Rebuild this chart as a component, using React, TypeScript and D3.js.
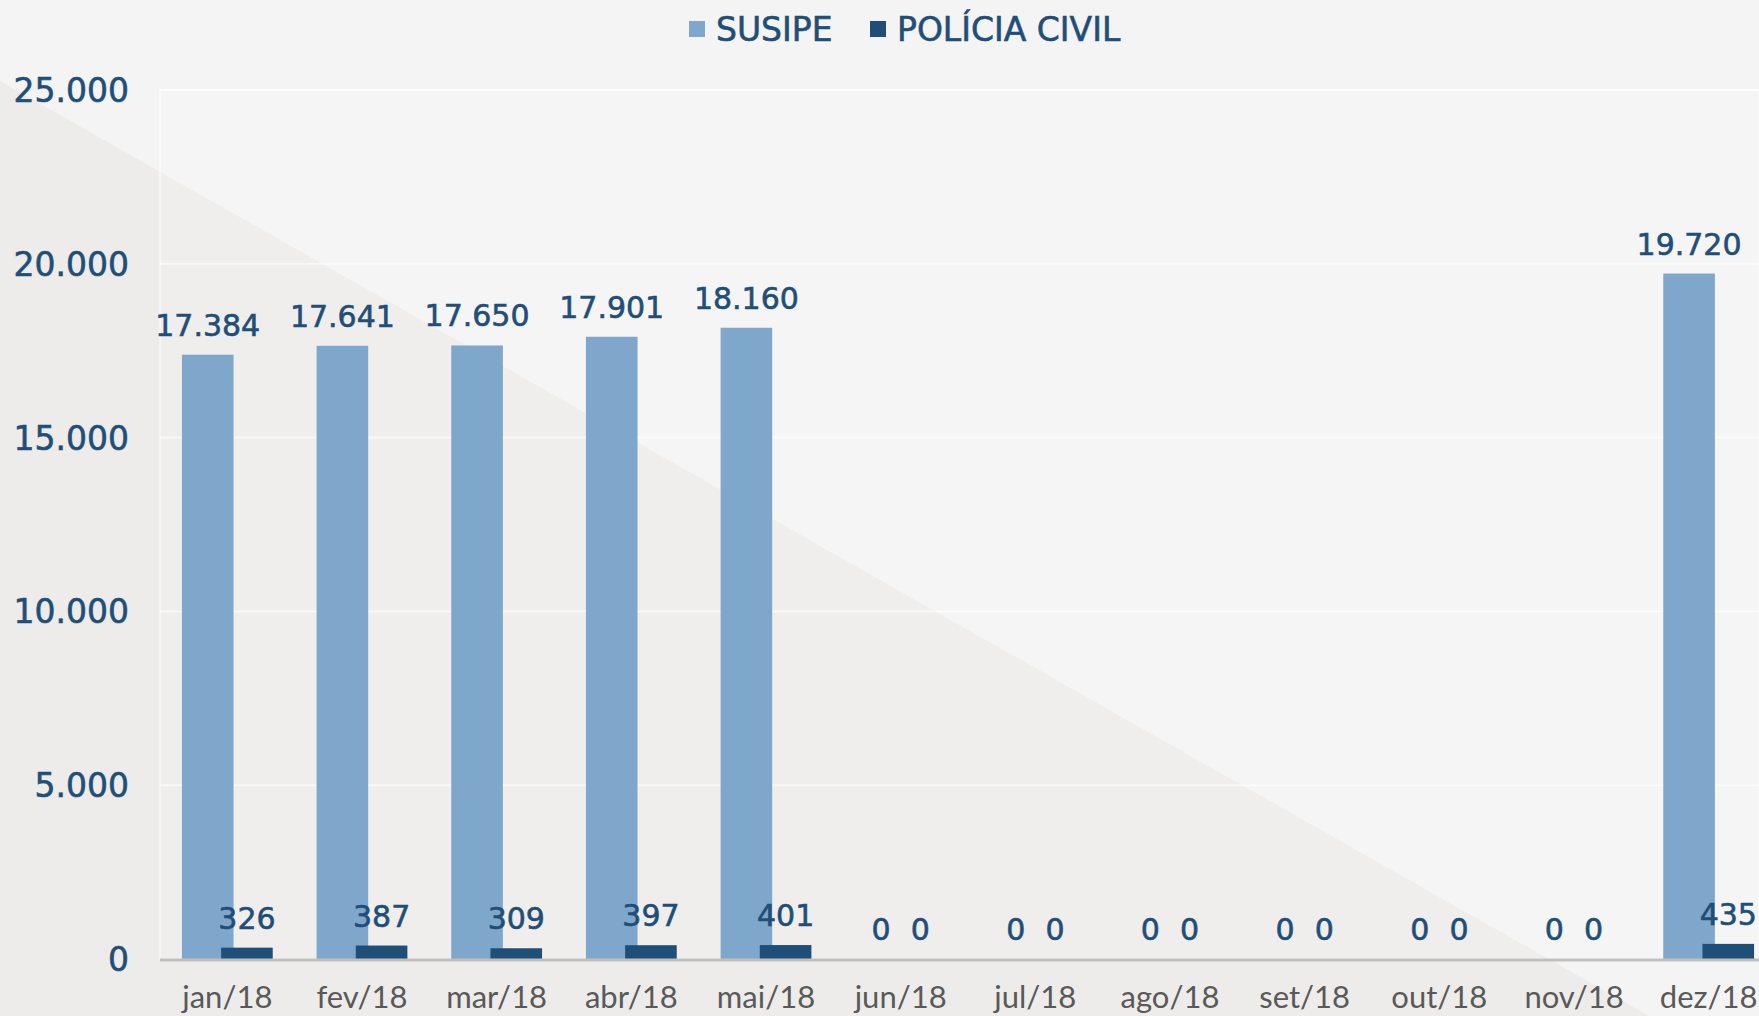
import React, { Component } from 'react'
import * as d3 from 'd3'

const months = ['jan/18', 'fev/18', 'mar/18', 'abr/18', 'mai/18', 'jun/18', 'jul/18', 'ago/18', 'set/18', 'out/18', 'nov/18', 'dez/18']
const susipe = [17384, 17641, 17650, 17901, 18160, 0, 0, 0, 0, 0, 0, 19720]
const policiaCivil = [326, 387, 309, 397, 401, 0, 0, 0, 0, 0, 0, 435]
const seriesNames = ['SUSIPE', 'POLÍCIA CIVIL']
const yTicks = [0, 5000, 10000, 15000, 20000, 25000]

const W = 1759
const H = 1016
const NUM_FONT = "'DejaVu Sans', sans-serif"
const DARK = '#1f4e79'
const LIGHT = '#7fa6cb'

class App extends Component {
  svgRef = React.createRef<SVGSVGElement>()

  componentDidMount() {
    const svg = d3.select(this.svgRef.current)
    svg.selectAll('*').remove()

    const fmt = d3.formatLocale({ decimal: ',', thousands: '.', grouping: [3], currency: ['R$', ''] }).format(',d')

    const x = d3.scaleBand().domain(months).range([160, 1776])
    const off = d3.scalePoint().domain(seriesNames).range([-19.6, 19.6])
    const y = d3.scaleLinear().domain([0, 25000]).range([959, 90])
    const barW = 51.6
    const colors = [LIGHT, DARK]

    // background + diagonal shade
    svg.append('rect').attr('width', W).attr('height', H).attr('fill', '#f4f4f4')
    svg.append('path')
      .attr('d', d3.line()([[0, 81], [1649, 1016], [0, 1016]]) + 'Z')
      .attr('fill', '#edecea')

    // plot area
    svg.append('rect')
      .attr('x', 160).attr('y', y(25000))
      .attr('width', W - 160).attr('height', y(0) - y(25000))
      .attr('fill', 'rgba(255,255,255,0.12)')
      .attr('stroke', 'rgba(255,255,255,0.6)')
      .attr('stroke-width', 1.5)

    // gridlines
    svg.append('g').selectAll('line')
      .data(yTicks.filter(d => d > 0)).enter().append('line')
      .attr('x1', 160).attr('x2', W)
      .attr('y1', d => y(d)).attr('y2', d => y(d))
      .attr('stroke', 'rgba(255,255,255,0.6)')
      .attr('stroke-width', 2)

    // y tick labels
    svg.append('g').selectAll('text')
      .data(yTicks).enter().append('text')
      .attr('x', 129).attr('y', d => y(d) + 12)
      .attr('text-anchor', 'end')
      .attr('font-family', NUM_FONT).attr('font-size', 33)
      .attr('fill', DARK).attr('stroke', DARK).attr('stroke-width', 0.6)
      .text(d => fmt(d))

    // bars
    const series = [susipe, policiaCivil]
    series.forEach((vals, s) => {
      const g = svg.append('g')
      const cx = (i: number) => (x(months[i]) as number) + x.bandwidth() / 2 + (off(seriesNames[s]) as number)
      g.selectAll('rect')
        .data(vals).enter().append('rect')
        .attr('x', (d, i) => cx(i) - barW / 2)
        .attr('y', d => y(d))
        .attr('width', barW)
        .attr('height', d => y(0) - y(d))
        .attr('fill', colors[s])
      g.selectAll('text')
        .data(vals).enter().append('text')
        .attr('x', (d, i) => cx(i))
        .attr('y', d => y(d) - 19)
        .attr('text-anchor', 'middle')
        .attr('font-family', NUM_FONT).attr('font-size', 30)
        .attr('fill', DARK).attr('stroke', DARK).attr('stroke-width', 0.6)
        .text(d => fmt(d))
    })

    // axis line
    svg.append('line')
      .attr('x1', 160).attr('x2', W)
      .attr('y1', y(0) + 1).attr('y2', y(0) + 1)
      .attr('stroke', '#bfbfbf').attr('stroke-width', 3)

    // x labels
    svg.append('g').selectAll('text')
      .data(months).enter().append('text')
      .attr('x', d => (x(d) as number) + x.bandwidth() / 2)
      .attr('y', 1008)
      .attr('text-anchor', 'middle')
      .attr('font-family', 'Lato, sans-serif').attr('font-size', 31)
      .attr('fill', '#595959')
      .text(d => d)

    // legend
    const legendX = [689, 870]
    const legend = svg.append('g').selectAll('g')
      .data(seriesNames).enter().append('g')
      .attr('transform', (d, i) => `translate(${legendX[i]},0)`)
    legend.append('rect')
      .attr('x', 0).attr('y', 21).attr('width', 16).attr('height', 16)
      .attr('fill', (d, i) => colors[i])
    legend.append('text')
      .attr('x', 27).attr('y', 41)
      .attr('font-family', NUM_FONT).attr('font-size', 33)
      .attr('fill', DARK).attr('stroke', DARK).attr('stroke-width', 0.6)
      .text(d => d)
  }

  render() {
    return (
      <svg ref={this.svgRef} width={W} height={H}
        style={{ position: 'absolute', left: 0, top: 0, display: 'block' }}></svg>
    )
  }
}

export default App
